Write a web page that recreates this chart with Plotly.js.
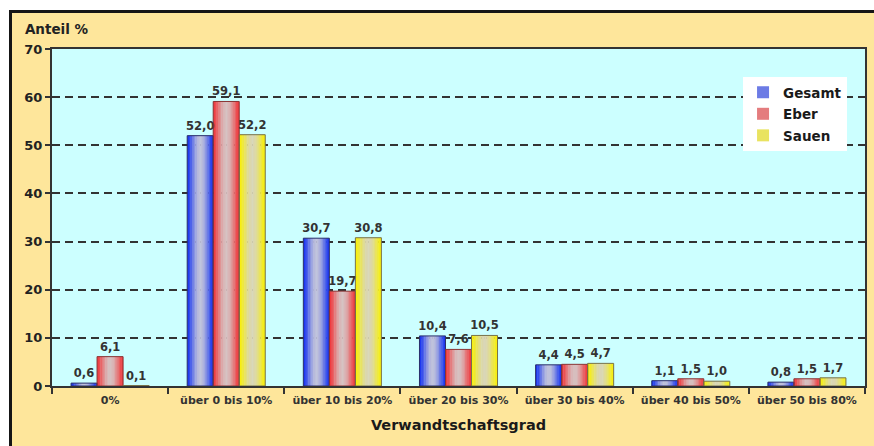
<!DOCTYPE html>
<html>
<head>
<meta charset="utf-8">
<script src="https://cdn.plot.ly/plotly-3.0.1.min.js"></script>
<style>
  html, body { margin: 0; padding: 0; background: #ffffff; width: 874px; height: 446px; overflow: hidden; }
  #frame { position: absolute; left: 9px; top: 10px; border-left: 3px solid #151515; border-top: 3px solid #151515; }
  #chart { width: 862px; height: 433px; }
</style>
</head>
<body>
<div id="frame"><div id="chart"></div></div>
<script>
// Verwandtschaftsgrad classes (x axis)
const categories = ['0%', 'über 0 bis 10%', 'über 10 bis 20%', 'über 20 bis 30%',
                    'über 30 bis 40%', 'über 40 bis 50%', 'über 50 bis 80%'];
// Anteil in % per group
const gesamt = [0.6, 52.0, 30.7, 10.4, 4.4, 1.1, 0.8];
const eber   = [6.1, 59.1, 19.7, 7.6, 4.5, 1.5, 1.5];
const sauen  = [0.1, 52.2, 30.8, 10.5, 4.7, 1.0, 1.7];
const seriesNames = ['Gesamt', 'Eber', 'Sauen'];
const yTickValues = [0, 10, 20, 30, 40, 50, 60, 70];

const seriesValues = [gesamt, eber, sauen];

// Cylinder-like shading: saturated edges fading to grey in the middle
const styles = [
  { edge: [24, 52, 240],  mid: [200, 200, 218], line: '#2a2f6a' },
  { edge: [240, 56, 60],  mid: [214, 198, 198], line: '#8a3434' },
  { edge: [248, 240, 10], mid: [216, 212, 190], line: '#77724a' }
];

const BAR_W = 0.224;          // width of one bar in category units
const GROUP_START = -0.336;   // left edge of the first bar relative to the category centre
const SLICES = 16;

function mix(a, b, f) {
  const c = a.map((v, i) => Math.round(v + (b[i] - v) * f));
  return 'rgb(' + c.join(',') + ')';
}

const traces = [];
seriesValues.forEach((vals, s) => {
  const st = styles[s];
  const base = GROUP_START + s * BAR_W;
  const step = BAR_W / SLICES;
  for (let i = 0; i < SLICES; i++) {
    const t = (i + 0.5) / SLICES;
    const f = Math.pow(Math.sin(Math.PI * t), 1.5);
    const off = base + i * step;
    const w = Math.min(step * 1.25, BAR_W - i * step);
    traces.push({
      type: 'bar',
      x: categories,
      y: vals,
      offset: off,
      width: w,
      marker: { color: mix(st.edge, st.mid, f * 0.95), line: { width: 0 } },
      name: seriesNames[s],
      legendgroup: seriesNames[s],
      showlegend: i === 3,
      hoverinfo: 'skip'
    });
  }
});

// Outline and value label for every bar
seriesValues.forEach((vals, s) => {
  traces.push({
    type: 'bar',
    x: categories,
    y: vals,
    offset: GROUP_START + s * BAR_W,
    width: BAR_W,
    marker: { color: 'rgba(0,0,0,0)', line: { color: styles[s].line, width: 1 } },
    texttemplate: '%{y:.1f}',
    textposition: 'outside',
    constraintext: 'none',
    cliponaxis: false,
    textfont: { family: 'DejaVu Sans', size: 11.5, color: '#333333', weight: 'bold' },
    name: seriesNames[s],
    legendgroup: seriesNames[s],
    showlegend: false,
    hovertemplate: '%{x}: %{y:.1f}<extra>' + seriesNames[s] + '</extra>'
  });
});

const layout = {
  width: 862,
  height: 433,
  margin: { l: 40, r: 9, t: 36, b: 60 },
  paper_bgcolor: '#fee69b',
  plot_bgcolor: '#ccffff',
  barmode: 'overlay',
  separators: ',.',
  font: { family: 'DejaVu Sans', color: '#222222' },
  title: {
    text: '<b>Anteil %</b>',
    xref: 'container', x: 0.015, xanchor: 'left',
    yref: 'container', y: 0.962, yanchor: 'middle',
    font: { family: 'DejaVu Sans', size: 13.5, color: '#222222' }
  },
  xaxis: {
    type: 'category',
    showline: true, linecolor: '#333333', linewidth: 2, mirror: true,
    ticks: 'outside', tickson: 'boundaries', ticklen: 6, tickwidth: 2, tickcolor: '#333333',
    tickfont: { family: 'DejaVu Sans', size: 11, color: '#333333', weight: 'bold' },
    ticklabelstandoff: 3,
    showgrid: false,
    title: {
      text: '<b>Verwandtschaftsgrad</b>',
      font: { family: 'DejaVu Sans', size: 14.5, color: '#1a1a1a' },
      standoff: 14
    }
  },
  yaxis: {
    range: [0, 70],
    tickvals: yTickValues,
    showline: true, linecolor: '#333333', linewidth: 2, mirror: true,
    ticks: 'outside', ticklen: 5, tickwidth: 2, tickcolor: '#333333',
    tickfont: { family: 'DejaVu Sans', size: 13, color: '#222222', weight: 'bold' },
    showgrid: true, gridcolor: '#333333', gridwidth: 2, griddash: '8px,5px',
    zeroline: false
  },
  legend: {
    x: 0.85, xanchor: 'left',
    y: 0.917, yanchor: 'top',
    bgcolor: '#ffffff',
    borderwidth: 0,
    tracegroupgap: 1,
    font: { family: 'DejaVu Sans', size: 13.5, color: '#1a1a1a', weight: 'bold' }
  },
  showlegend: true
};

Plotly.newPlot('chart', traces, layout, { displayModeBar: false, staticPlot: true });
</script>
</body>
</html>
